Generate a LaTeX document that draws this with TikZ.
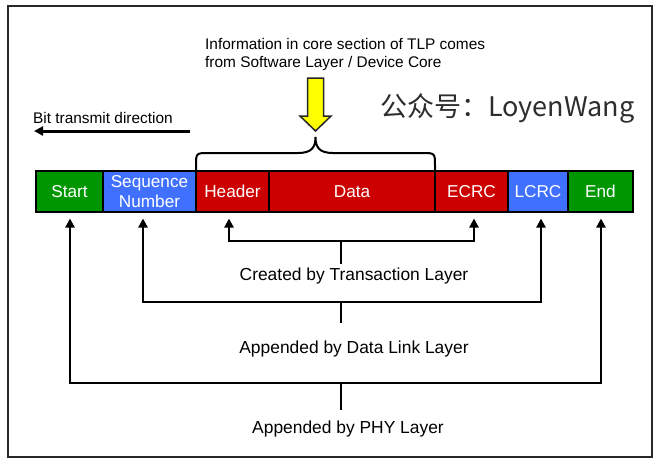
\documentclass[tikz,border=0pt]{standalone}
\usepackage{fontspec}
\setmainfont{Liberation Sans}
\newfontfamily\cjk{Noto Sans CJK SC}
\usetikzlibrary{arrows.meta}
\definecolor{segGreen}{RGB}{0,150,0}
\definecolor{segBlue}{RGB}{64,112,255}
\definecolor{segRed}{RGB}{204,0,0}
\definecolor{frameGray}{RGB}{40,40,40}
\definecolor{markGray}{RGB}{45,45,45}
\definecolor{arrYellow}{RGB}{255,255,0}
\begin{document}
\begin{tikzpicture}[x=1pt,y=-1pt,
  seg/.style={draw=black,line width=1.6pt,minimum height=41pt,inner sep=0pt,outer sep=0pt,
    text=white,align=center,font=\fontsize{17.2}{19.5}\selectfont},
  wire/.style={line width=2.6pt,line cap=rect},
  upar/.style={line width=2.6pt,-{Triangle[length=9pt,width=9pt]},shorten >=6.5pt},
  lbl/.style={font=\fontsize{17.4}{20}\selectfont,inner sep=0pt,text=black},
  infotxt/.style={font=\fontsize{15.4}{17.5}\selectfont,align=left,inner sep=0pt,anchor=west}
]
\useasboundingbox (0,0) rectangle (659,464);
\fill[white] (0,0) rectangle (659,464);
\draw[frameGray,line width=1.6pt] (8,6) rectangle (652,457);

% packet bar
\node[seg,fill=segGreen,minimum width=67pt] (start) at (69.5,191.5) {Start};
\node[seg,fill=segBlue,minimum width=93pt] (seq) at (149.5,191.5) {Sequence\\Number};
\node[seg,fill=segRed,minimum width=73pt] (header) at (232.5,191.5) {Header};
\node[seg,fill=segRed,minimum width=166pt] (data) at (352,191.5) {Data};
\node[seg,fill=segRed,minimum width=73pt] (ecrc) at (471.5,191.5) {ECRC};
\node[seg,fill=segBlue,minimum width=60pt] (lcrc) at (538,191.5) {LCRC};
\node[seg,fill=segGreen,minimum width=65pt] (end) at (600.5,191.5) {End};

% brace over header+data
\draw[line width=2pt] (header.north west) -- (196,166)
  .. controls (196,153) .. (209,153) -- (298,153)
  .. controls (312,153) and (315.5,147) .. (315.5,137)
  .. controls (315.5,147) and (319,153) .. (333,153) -- (422,153)
  .. controls (435,153) .. (435,166) -- (data.north east);

% yellow arrow
\draw[fill=arrYellow,draw=black!85,line width=1.5pt,line join=miter]
  (307.5,78) -- (323.5,78) -- (323.5,116) -- (331,116) -- (315.5,131)
  -- (300,116) -- (307.5,116) -- cycle;

% info text
\node[infotxt] (info) at (205,54.5) {Information in core section of TLP comes\\from Software Layer / Device Core};

% bit transmit direction
\node[font=\fontsize{15.4}{18}\selectfont,inner sep=0pt,anchor=west] (bitdir) at (33,118) {Bit transmit direction};
\coordinate (bitR) at (190,131);
\coordinate (bitL) at (34,131);
\draw[line width=3pt,-{Triangle[length=9pt,width=9pt]}] (bitR) -- (bitL);

% watermark
\node[font=\cjk\fontsize{27}{30}\selectfont,text=markGray,inner sep=0pt,anchor=west] (mark) at (380,108) {公众号：LoyenWang};

% labels
\node[lbl] (tltxt) at (354,276) {Created by Transaction Layer};
\node[lbl] (dltxt) at (354,349) {Appended by Data Link Layer};
\node[lbl] (phytxt) at (348,429) {Appended by PHY Layer};

% Transaction layer bracket
\coordinate (tlL) at (229,241);
\coordinate (tlR) at (474,241);
\coordinate (tlJ) at (341,241);
\draw[wire] (tlL) -- (tlR);
\draw[upar] (tlL) -- (tlL |- header.south);
\draw[upar] (tlR) -- (tlR |- ecrc.south);
\draw[wire,line cap=butt] (tlJ) -- (341,264);

% Data link layer bracket
\coordinate (dlL) at (143,302);
\coordinate (dlR) at (541,302);
\coordinate (dlJ) at (341,302);
\draw[wire] (dlL) -- (dlR);
\draw[upar] (dlL) -- (dlL |- seq.south);
\draw[upar] (dlR) -- (dlR |- lcrc.south);
\draw[wire,line cap=butt] (dlJ) -- (341,323);

% PHY layer bracket
\coordinate (phL) at (70,383);
\coordinate (phR) at (601,383);
\coordinate (phJ) at (341,383);
\draw[wire] (phL) -- (phR);
\draw[upar] (phL) -- (phL |- start.south);
\draw[upar] (phR) -- (phR |- end.south);
\draw[wire,line cap=butt] (phJ) -- (341,410);
\end{tikzpicture}
\end{document}
